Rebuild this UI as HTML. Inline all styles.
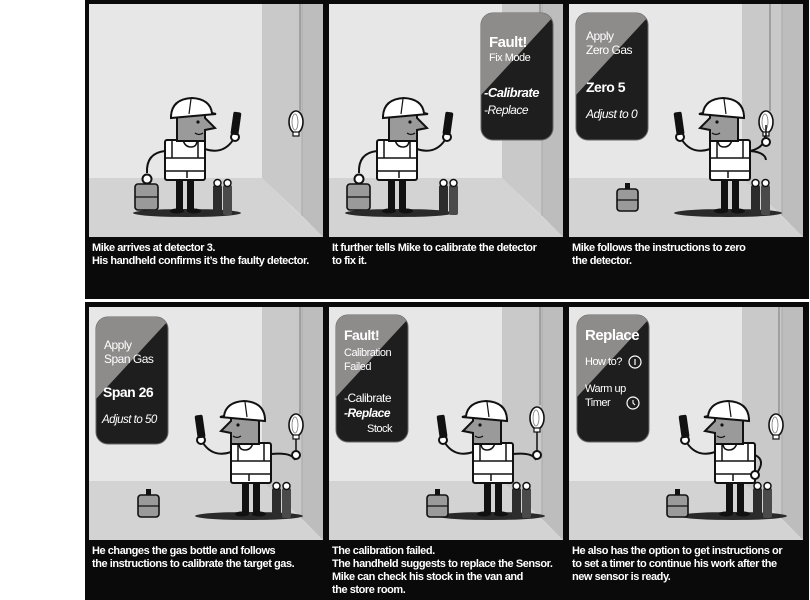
<!DOCTYPE html>
<html><head><meta charset="utf-8"><style>
html,body{margin:0;padding:0;background:#fff;}
svg{display:block;}
.cap{font-family:"Liberation Sans",sans-serif;font-weight:bold;font-size:11px;fill:#fff;letter-spacing:-0.45px;}
.bt{font-family:"Liberation Sans",sans-serif;fill:#fff;letter-spacing:-0.5px;}
</style></head><body>
<svg width="810" height="600" viewBox="0 0 810 600" xmlns="http://www.w3.org/2000/svg">
<defs>
<clipPath id="bc"><rect x="0" y="0" width="72" height="127" rx="12"/></clipPath>
<g id="bg">
  <rect x="0" y="0" width="234" height="233" fill="#e7e7e7"/>
  <polygon points="0,174 173,174 234,233 0,233" fill="#d3d3d3"/>
  <polygon points="173,0 213,0 213,212 173,174" fill="#c9c9c9"/>
  <polygon points="213,0 234,0 234,233 213,212" fill="#bdbdbd"/>
  <line x1="213" y1="0" x2="213" y2="212" stroke="#a9a9a9" stroke-width="1"/>
</g>
<g id="det">
  <ellipse cx="0" cy="0" rx="7" ry="11" fill="#fff" stroke="#111" stroke-width="1.6"/>
  <rect x="-3" y="10" width="6" height="4" fill="#fff" stroke="#111" stroke-width="1.2"/>
  <ellipse cx="-1" cy="0" rx="3" ry="8" fill="none" stroke="#777" stroke-width="0.8"/>
</g>
<g id="core">
  <ellipse cx="-6" cy="0" rx="54" ry="4" fill="#2a2a2a"/>
  <rect x="-17" y="-35" width="7" height="33" fill="#111"/>
  <rect x="-6" y="-35" width="7" height="33" fill="#111"/>
  <ellipse cx="-16" cy="-2" rx="7" ry="2.5" fill="#111"/>
  <ellipse cx="1" cy="-2" rx="7" ry="2.5" fill="#111"/>
  <rect x="-28" y="-73" width="40" height="40" rx="2" fill="#fff" stroke="#111" stroke-width="2"/>
  <line x1="-28" y1="-55" x2="12" y2="-55" stroke="#111" stroke-width="1.5"/>
  <line x1="-28" y1="-42" x2="12" y2="-42" stroke="#111" stroke-width="1.5"/>
  <line x1="-21" y1="-73" x2="-21" y2="-55" stroke="#111" stroke-width="1.5"/>
  <line x1="5" y1="-73" x2="5" y2="-55" stroke="#111" stroke-width="1.5"/>
  <line x1="-6" y1="-42" x2="-6" y2="-35" stroke="#111" stroke-width="1.5"/>
  <path d="M-10,-73 Q-8,-66 -2,-66 Q4,-66 4,-73" fill="none" stroke="#111" stroke-width="1.5"/>
  <path d="M-16,-72 L-16,-98 Q-16,-108 -2,-108 Q12,-108 12,-99 L12,-95 L22,-85 L12,-83 L12,-72 Z" fill="#9a9a9a" stroke="#111" stroke-width="2"/>
  <path d="M-22,-97 Q-21,-114 -1,-115 Q17,-114 19,-100 L23,-99 L-22,-95 Z" fill="#fff" stroke="#111" stroke-width="2"/>
  <line x1="-2" y1="-114" x2="-4" y2="-99" stroke="#111" stroke-width="1.2"/>
  <circle cx="5" cy="-91" r="1.6" fill="#111"/>
  <path d="M2,-80 Q6,-77 10,-80" fill="none" stroke="#111" stroke-width="1.3"/>
  <path d="M12,-64 Q30,-58 40,-73" fill="none" stroke="#111" stroke-width="2"/>
  <circle cx="42" cy="-76" r="4" fill="#fff" stroke="#111" stroke-width="2"/>
  <rect x="39" y="-101" width="8" height="23" rx="2" fill="#111" transform="rotate(8 43 -90)"/>
</g>
<g id="bottles">
  <rect x="0" y="-30" width="9" height="30" rx="2" fill="#2c2c2c"/>
  <rect x="10" y="-30" width="9" height="30" rx="2" fill="#4a4a4a"/>
  <circle cx="4.5" cy="-32" r="3.5" fill="#fff" stroke="#111" stroke-width="1.5"/>
  <circle cx="14.5" cy="-32" r="3.5" fill="#fff" stroke="#111" stroke-width="1.5"/>
</g>
<g id="box">
  <rect x="0" y="-24" width="21" height="22" rx="3" fill="#9a9a9a" stroke="#111" stroke-width="1.6"/>
  <line x1="0" y1="-13" x2="21" y2="-13" stroke="#111" stroke-width="1.2"/>
  <rect x="8" y="-30" width="5" height="6" fill="#111"/>
</g>
<g id="bagarm">
  <path d="M-28,-62 Q-47,-60 -46,-40" fill="none" stroke="#111" stroke-width="2"/>
  <circle cx="-46" cy="-34" r="4.5" fill="#fff" stroke="#111" stroke-width="2"/>
  <rect x="-58" y="-29" width="23" height="26" rx="3" fill="#9a9a9a" stroke="#111" stroke-width="1.6"/>
  <line x1="-58" y1="-16" x2="-35" y2="-16" stroke="#111" stroke-width="1.2"/>
</g>
</defs>

<!-- frames -->
<rect x="85" y="0" width="724" height="299" fill="#0a0a0a"/>
<rect x="85" y="302" width="724" height="298" fill="#0a0a0a"/>

<!-- backgrounds -->
<use href="#bg" x="89" y="4"/>
<use href="#bg" x="329" y="4"/>
<use href="#bg" x="569" y="4"/>
<use href="#bg" x="89" y="307"/>
<use href="#bg" x="329" y="307"/>
<use href="#bg" x="569" y="307"/>

<!-- detector wires -->
<line x1="300" y1="4" x2="300" y2="111" stroke="#777" stroke-width="1"/>
<line x1="540" y1="4" x2="540" y2="111" stroke="#777" stroke-width="1"/>
<line x1="770" y1="4" x2="770" y2="111" stroke="#777" stroke-width="1"/>
<line x1="300" y1="307" x2="300" y2="414" stroke="#777" stroke-width="1"/>
<line x1="540" y1="307" x2="540" y2="405" stroke="#777" stroke-width="1"/>
<line x1="779" y1="307" x2="779" y2="414" stroke="#777" stroke-width="1"/>

<!-- panel 1 -->
<use href="#det" x="296" y="122"/>
<use href="#bagarm" x="193" y="213"/>
<use href="#core" x="193" y="213"/>
<use href="#bottles" x="213" y="215"/>

<!-- panel 2 -->
<use href="#det" x="536" y="122"/>
<use href="#bagarm" x="405" y="213"/>
<use href="#core" x="405" y="213"/>
<use href="#bottles" x="439" y="215"/>

<!-- panel 3 -->
<use href="#det" x="766" y="122"/>
<path d="M750,151 Q764,148 765,137 L766,136" fill="none" stroke="#111" stroke-width="2"/>
<line x1="766" y1="136" x2="766" y2="125" stroke="#111" stroke-width="1.5"/>
<g transform="translate(722,213) scale(-1,1)"><use href="#core"/></g>
<path d="M750,151 Q765,152 766,160" fill="none" stroke="#111" stroke-width="2"/>
<circle cx="766" cy="142" r="4" fill="#fff" stroke="#111" stroke-width="2"/>
<use href="#box" x="617" y="213"/>
<use href="#bottles" x="751" y="215"/>

<!-- panel 4 -->
<use href="#det" x="296" y="425"/>
<line x1="296" y1="439" x2="296" y2="453" stroke="#111" stroke-width="1.5"/>
<g transform="translate(243,516) scale(-1,1)"><use href="#core"/></g>
<path d="M271,454 Q292,452 295,460" fill="none" stroke="#111" stroke-width="2"/>
<circle cx="296" cy="455" r="4" fill="#fff" stroke="#111" stroke-width="2"/>
<use href="#box" x="138" y="519"/>
<use href="#bottles" x="272" y="518"/>

<!-- panel 5 -->
<use href="#det" x="537" y="418"/>
<line x1="537" y1="432" x2="537" y2="453" stroke="#111" stroke-width="1.5"/>
<g transform="translate(485,516) scale(-1,1)"><use href="#core"/></g>
<path d="M513,454 Q533,452 536,460" fill="none" stroke="#111" stroke-width="2"/>
<circle cx="537" cy="455" r="4" fill="#fff" stroke="#111" stroke-width="2"/>
<use href="#box" x="427" y="519"/>
<use href="#bottles" x="512" y="518"/>

<!-- panel 6 -->
<use href="#det" x="776" y="425"/>
<g transform="translate(727,516) scale(-1,1)"><use href="#core"/></g>
<path d="M755,455 Q766,460 757,473" fill="none" stroke="#111" stroke-width="2"/>
<circle cx="755" cy="475" r="4" fill="#fff" stroke="#111" stroke-width="2"/>
<use href="#box" x="667" y="519"/>
<use href="#bottles" x="753" y="518"/>

<!-- bubbles -->
<g transform="translate(481,13)">
  <rect x="0" y="0" width="72" height="127" rx="12" fill="#1e1e1e" stroke="#666" stroke-width="1"/>
  <polygon points="0,0 72,0 72,4 0,82" fill="#8e8b8b" clip-path="url(#bc)"/>
  <text class="bt" x="8" y="34" font-size="15" font-weight="bold">Fault!</text>
  <text class="bt" x="8" y="48" font-size="11" fill="#eee">Fix Mode</text>
  <text class="bt" x="3" y="84" font-size="13" font-weight="bold" font-style="italic">-Calibrate</text>
  <text class="bt" x="3" y="101" font-size="12" font-style="italic">-Replace</text>
</g>
<g transform="translate(576,13)">
  <rect x="0" y="0" width="72" height="127" rx="12" fill="#1e1e1e" stroke="#666" stroke-width="1"/>
  <polygon points="0,0 72,0 72,4 0,82" fill="#8e8b8b" clip-path="url(#bc)"/>
  <text class="bt" x="10" y="27" font-size="12" fill="#ddd">Apply</text>
  <text class="bt" x="10" y="41" font-size="12" fill="#ddd">Zero Gas</text>
  <text class="bt" x="10" y="79" font-size="14" font-weight="bold">Zero 5</text>
  <text class="bt" x="10" y="105" font-size="12" font-style="italic">Adjust to 0</text>
</g>
<g transform="translate(96,317)">
  <rect x="0" y="0" width="72" height="127" rx="12" fill="#1e1e1e" stroke="#666" stroke-width="1"/>
  <polygon points="0,0 72,0 72,4 0,82" fill="#8e8b8b" clip-path="url(#bc)"/>
  <text class="bt" x="8" y="32" font-size="12" fill="#ddd">Apply</text>
  <text class="bt" x="8" y="46" font-size="12" fill="#ddd">Span Gas</text>
  <text class="bt" x="7" y="80" font-size="14" font-weight="bold">Span 26</text>
  <text class="bt" x="6" y="106" font-size="11.5" font-style="italic">Adjust to 50</text>
</g>
<g transform="translate(336,315)">
  <rect x="0" y="0" width="72" height="127" rx="12" fill="#1e1e1e" stroke="#666" stroke-width="1"/>
  <polygon points="0,0 72,0 72,4 0,82" fill="#8e8b8b" clip-path="url(#bc)"/>
  <text class="bt" x="8" y="25" font-size="14" font-weight="bold">Fault!</text>
  <text class="bt" x="8" y="41" font-size="11" fill="#eee">Calibration</text>
  <text class="bt" x="8" y="55" font-size="11" fill="#eee">Failed</text>
  <text class="bt" x="8" y="87" font-size="12">-Calibrate</text>
  <text class="bt" x="8" y="102" font-size="12" font-weight="bold" font-style="italic">-Replace</text>
  <text class="bt" x="31" y="117" font-size="11">Stock</text>
</g>
<g transform="translate(577,315)">
  <rect x="0" y="0" width="72" height="127" rx="12" fill="#1e1e1e" stroke="#666" stroke-width="1"/>
  <polygon points="0,0 72,0 72,4 0,82" fill="#8e8b8b" clip-path="url(#bc)"/>
  <text class="bt" x="8" y="25" font-size="15" font-weight="bold">Replace</text>
  <text class="bt" x="8" y="50" font-size="11" fill="#eee">How to?</text>
  <circle cx="58" cy="47" r="6" fill="none" stroke="#fff" stroke-width="1.2"/>
  <line x1="58" y1="44" x2="58" y2="50" stroke="#fff" stroke-width="1.2"/>
  <text class="bt" x="8" y="77" font-size="11">Warm up</text>
  <text class="bt" x="8" y="91" font-size="11">Timer</text>
  <circle cx="56" cy="88" r="6" fill="none" stroke="#fff" stroke-width="1.2"/>
  <path d="M56,85 L56,88 L58,90" fill="none" stroke="#fff" stroke-width="1.1"/>
</g>

<!-- captions -->
<text class="cap" x="92" y="251">Mike arrives at detector 3.</text>
<text class="cap" x="92" y="264">His handheld confirms it’s the faulty detector.</text>
<text class="cap" x="332" y="251">It further tells Mike to calibrate the detector</text>
<text class="cap" x="332" y="264">to fix it.</text>
<text class="cap" x="572" y="251">Mike follows the instructions to zero</text>
<text class="cap" x="572" y="264">the detector.</text>
<text class="cap" x="92" y="554">He changes the gas bottle and follows</text>
<text class="cap" x="92" y="567">the instructions to calibrate the target gas.</text>
<text class="cap" x="332" y="554">The calibration failed.</text>
<text class="cap" x="332" y="567">The handheld suggests to replace the Sensor.</text>
<text class="cap" x="332" y="580">Mike can check his stock in the van and</text>
<text class="cap" x="332" y="593">the store room.</text>
<text class="cap" x="572" y="554">He also has the option to get instructions or</text>
<text class="cap" x="572" y="567">to set a timer to continue his work after the</text>
<text class="cap" x="572" y="580">new sensor is ready.</text>
</svg>
</body></html>
